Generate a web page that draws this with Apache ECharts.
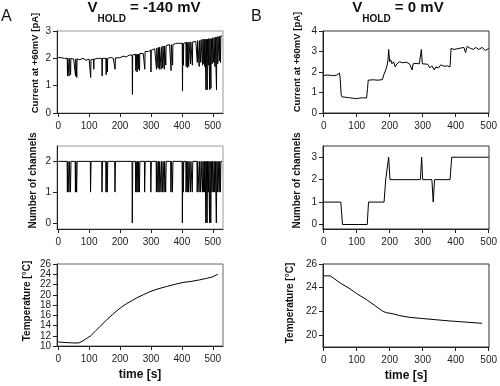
<!DOCTYPE html>
<html><head><meta charset="utf-8">
<script src="https://cdn.jsdelivr.net/npm/echarts@6/dist/echarts.min.js"></script>
<style>html,body{margin:0;padding:0;background:#fff}#c{width:500px;height:386px}</style>
</head><body><div id="c"></div>
<script>
// ---------- DATA ----------
const timeTicks = [0, 100, 200, 300, 400, 500];
const currentTicksA = [0, 1, 2, 3];
const currentTicksB = [0, 1, 2, 3, 4];
const channelTicksA = [0, 1, 2];
const channelTicksB = [0, 1, 2, 3];
const tempTicksA = [10, 12, 14, 16, 18, 20, 22, 24, 26];
const tempTicksB = [20, 22, 24, 26];

// Panel A current baseline samples [time s, current pA]
const baselineA = [[0,2.03],[5,2.06],[10,2.02],[15,2.05],[20,2.0],[25,2.03],[45,2.0],[50,1.97],[65,2.02],[70,1.95],[80,2.0],[90,1.93],[95,1.9],[100,1.97],[110,1.98],[120,1.93],[130,2.0],[135,1.95],[148,2.02],[165,1.97],[170,2.03],[178,2.0],[190,2.05],[200,2.02],[210,2.08],[220,2.05],[230,2.12],[235,2.1],[245,2.15],[270,2.2],[275,2.18],[285,2.28],[292,2.25],[305,2.33],[312,2.35],[355,2.48],[360,2.5],[375,2.5],[380,2.55],[385,2.5],[390,2.55],[395,2.52],[410,2.58],[440,2.6],[445,2.62],[460,2.7],[500,2.7],[510,2.8],[530,2.82]];

// Panel A closure events: [time s, baseline pA, minimum pA, open channels]
const closuresA = [[30,2.0,1.35,1],[35,2.0,1.35,1],[40,2.0,1.4,1],[56,1.98,1.35,1],[60,1.98,1.3,1],[105,1.95,1.3,1],[115,1.97,1.6,2],[142,2.0,1.35,1],[155,2.0,1.4,1],[159,2.0,1.5,1],[184,2.02,1.6,1],[240,2.12,0.68,0],[251,2.15,1.55,1],[255,2.15,1.5,1],[259,2.15,1.6,1],[263,2.18,1.55,1],[280,2.25,1.6,1],[300,2.3,1.5,1],[318,2.38,1.6,1],[323,2.4,1.65,1],[327,2.4,1.6,1],[333,2.42,1.6,1],[338,2.45,1.65,1],[343,2.45,1.6,1],[348,2.47,1.75,1],[365,2.5,1.55,1],[370,2.5,1.75,1],[402,2.55,0.8,0],[405,2.55,1.75,1],[414,2.58,1.7,1],[418,2.58,1.65,1],[422,2.6,1.7,1],[428,2.6,1.8,1],[434,2.6,1.75,1],[450,2.65,1.85,1],[456,2.65,1.7,1],[461,2.68,1.85,1],[467,2.7,1.75,1],[471,2.7,1.8,1],[474,2.7,1.7,1],[478,2.7,0.85,0],[482,2.7,0.85,0],[486,2.72,1.75,1],[490,2.72,0.85,0],[494,2.72,0.9,0],[498,2.75,1.8,1],[503,2.75,1.85,1],[507,2.78,1.7,1],[512,2.78,0.85,0],[516,2.8,1.8,1],[521,2.8,1.9,1],[525,2.82,1.85,1]];

const tempA = [[0,10.8],[15,10.7],[30,10.65],[50,10.6],[67,10.6],[80,11.0],[90,11.4],[105,12.0],[120,12.9],[137,13.9],[158,15.2],[175,16.1],[190,16.9],[205,17.6],[222,18.3],[240,18.9],[254,19.4],[275,20.0],[297,20.6],[320,21.1],[350,21.6],[375,22.0],[404,22.4],[430,22.6],[457,22.9],[480,23.2],[500,23.5],[516,24.0]];

const currentB = [[0,1.83],[10,1.85],[20,1.84],[30,1.82],[40,1.85],[45,1.88],[48,1.95],[50,1.7],[53,0.9],[56,0.78],[65,0.77],[75,0.75],[80,0.7],[90,0.72],[100,0.7],[110,0.73],[120,0.74],[130,0.73],[133,1.2],[135,1.6],[150,1.62],[165,1.6],[178,1.63],[183,1.9],[188,2.1],[192,2.3],[195,2.6],[197,3.1],[200,2.5],[203,2.6],[207,2.4],[212,2.5],[217,2.25],[222,2.4],[230,2.5],[240,2.45],[250,2.48],[260,2.4],[265,2.45],[268,2.1],[271,2.4],[280,2.42],[290,2.4],[293,2.45],[296,3.1],[299,2.4],[305,2.35],[315,2.38],[322,2.2],[328,2.3],[335,2.1],[340,2.25],[348,2.2],[355,2.35],[365,2.28],[375,2.3],[383,2.25],[386,3.15],[395,3.1],[410,3.15],[425,3.2],[430,2.95],[435,3.25],[445,3.15],[455,3.1],[460,3.2],[470,3.1],[480,3.2],[490,3.05],[500,3.15]];

const channelsB = [[0,1],[52,1],[57,0],[132,0],[136,1],[183,1],[188,2],[193,2],[197,3],[201,2],[293,2],[297,3],[300,2],[328,2],[332,1],[336,2],[383,2],[388,3],[500,3]];

const tempB = [[0,25.0],[20,25.0],[25,24.85],[50,24.4],[80,23.9],[100,23.5],[130,23.0],[155,22.5],[180,22.0],[190,21.9],[210,21.8],[230,21.65],[260,21.5],[300,21.4],[340,21.3],[380,21.2],[430,21.1],[480,21.0]];

// ---------- BUILD ----------
const FONT = "'Liberation Sans', Arial, Helvetica, sans-serif";
const W = 0.9; // half-width of a closure event in seconds (drawing style)

function buildCurrentA() {
  const pts = baselineA.map(p => p.slice());
  closuresA.forEach(([t, base, low]) => { pts.push([t - W, base], [t, low], [t + W, base]); });
  pts.sort((a, b) => a[0] - b[0]);
  return pts;
}
function buildChannelsA() {
  const pts = [[0, 2]];
  closuresA.forEach(([t, , , n]) => {
    if (n < 2) pts.push([t - 1.2, 2], [t - 0.5, n], [t + 0.5, n], [t + 1.2, 2]);
  });
  pts.push([530, 2]);
  return pts;
}

const grids = [
  {left: 57, top: 31, width: 166, height: 82, borderColor: '#999'},
  {left: 57, top: 146, width: 166, height: 83, borderColor: '#999'},
  {left: 57, top: 264, width: 166, height: 82, borderColor: '#666'},
  {left: 323, top: 31, width: 167, height: 82, borderColor: '#333'},
  {left: 323, top: 146, width: 167, height: 83, borderColor: '#333'},
  {left: 323, top: 264, width: 166, height: 83, borderColor: '#333'}
].map(g => Object.assign({show: true, borderWidth: 1, containLabel: false}, g));

function xAxis(gi, min, max, named) {
  return {
    type: 'value', gridIndex: gi, min: min, max: max,
    axisLine: {show: true, onZero: false, lineStyle: {color: '#222', width: 1}},
    axisTick: {show: true, length: 4, customValues: timeTicks, lineStyle: {color: '#222'}},
    axisLabel: {customValues: timeTicks, margin: 8, fontSize: 10, color: '#222', fontFamily: FONT},
    splitLine: {show: false},
    name: named ? 'time [s]' : '', nameLocation: 'middle', nameGap: 23,
    nameTextStyle: {fontSize: 12, fontWeight: 'bold', color: '#111', fontFamily: FONT}
  };
}
function yAxis(gi, min, max, ticks, name, gap, shift, fs) {
  return {
    type: 'value', gridIndex: gi, min: min, max: max,
    axisLine: {show: true, onZero: false, lineStyle: {color: '#222', width: 1}},
    axisTick: {show: true, length: 4, customValues: ticks, lineStyle: {color: '#222'}},
    axisLabel: {customValues: ticks, margin: 6, fontSize: 10, color: '#222', fontFamily: FONT},
    splitLine: {show: false},
    name: name, nameLocation: 'middle', nameGap: gap, nameRotate: 90,
    nameTextStyle: {fontSize: fs, fontWeight: 'bold', color: '#111', fontFamily: FONT,
      padding: [0, 0, 0, shift]}
  };
}
function line(i, data) {
  return {type: 'line', xAxisIndex: i, yAxisIndex: i, data: data, showSymbol: false,
    symbol: 'none', lineStyle: {color: '#000', width: 1}, silent: true, animation: false};
}

const titleRich = {
  v: {fontSize: 15, fontWeight: 'bold', fontFamily: FONT, fill: '#111', lineHeight: 15, verticalAlign: 'top'},
  s: {fontSize: 10, fontWeight: 'bold', fontFamily: FONT, fill: '#111', lineHeight: 24, verticalAlign: 'bottom'}
};

const option = {
  animation: false,
  backgroundColor: '#fff',
  grid: grids,
  xAxis: [xAxis(0, -4, 533, false), xAxis(1, -4, 533, false), xAxis(2, -4, 533, true),
          xAxis(3, -2, 501, false), xAxis(4, -2, 501, false), xAxis(5, -2, 501, true)],
  yAxis: [
    yAxis(0, 0, 3, currentTicksA, 'Current at +60mV [pA]', 17, 18, 9.5),
    yAxis(1, -0.2, 2.5, channelTicksA, 'Number of channels', 19, 14, 10),
    yAxis(2, 10, 26, tempTicksA, 'Temperature [°C]', 25, 8, 10),
    yAxis(3, 0, 4, currentTicksB, 'Current at +60mV [pA]', 21, 20, 9.5),
    yAxis(4, -0.2, 3.5, channelTicksB, 'Number of channels', 21, 14, 10),
    yAxis(5, 19, 26, tempTicksB, 'Temperature [°C]', 28, 5, 10)
  ],
  series: [
    line(0, buildCurrentA()), line(1, buildChannelsA()), line(2, tempA),
    line(3, currentB), line(4, channelsB), line(5, tempB)
  ],
  graphic: [
    {type: 'text', x: 144, y: 0, style: {text: '{v|V}{s|HOLD}{v| = -140 mV}', rich: titleRich, textAlign: 'center', textVerticalAlign: 'top'}},
    {type: 'text', x: 398, y: 0, style: {text: '{v|V}{s|HOLD}{v| = 0 mV}', rich: titleRich, textAlign: 'center', textVerticalAlign: 'top'}},
    {type: 'text', x: 1, y: 9, style: {text: 'A', font: '16px ' + FONT, fill: '#111'}},
    {type: 'text', x: 251, y: 9, style: {text: 'B', font: '16px ' + FONT, fill: '#111'}}
  ]
};
echarts.init(document.getElementById('c'), null, {renderer: 'canvas'}).setOption(option);
</script></body></html>
